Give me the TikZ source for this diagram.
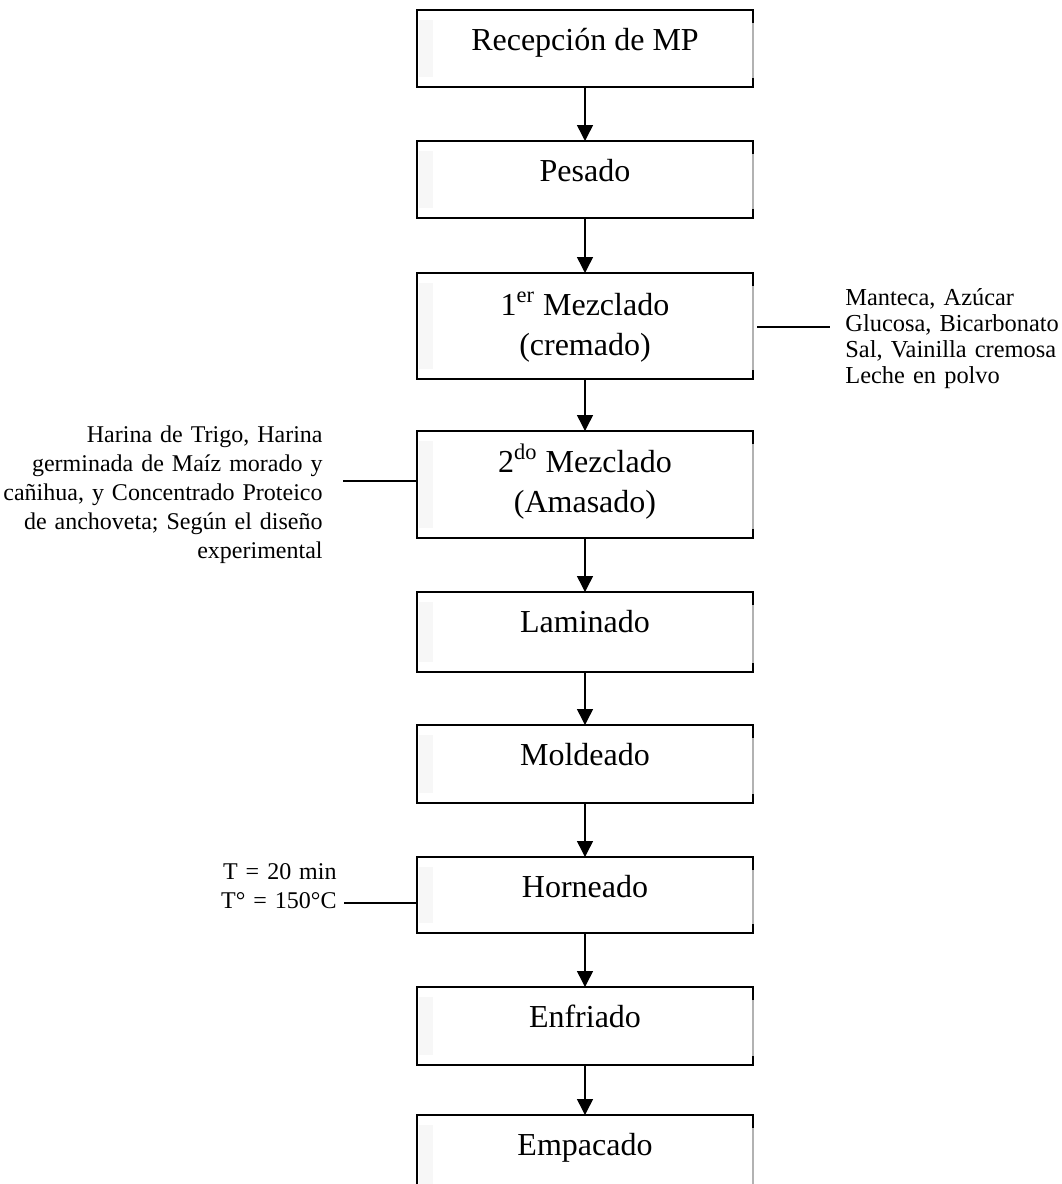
\documentclass[tikz,border=0pt]{standalone}
\usepackage{fontspec}
\setmainfont{Liberation Serif}
\usetikzlibrary{arrows.meta}

% frame of a process box: black top, left and bottom, grey right side
% with short black ends, and a faint shade inside the left side
\newcommand\procframe[1]{%
  \fill[black!3] ([xshift=1pt,yshift=-5pt]#1.north west) rectangle ([xshift=8pt,yshift=5pt]#1.south west);
  \draw[black!30, line width=0.75pt] (#1.north east) -- (#1.south east);
  \draw[edge] ([yshift=-6.5pt]#1.north east) -- (#1.north east) -- (#1.north west)
     -- (#1.south west) -- (#1.south east) -- ([yshift=4.5pt]#1.south east);
}

\begin{document}
\begin{tikzpicture}[x=0.5pt,y=-0.5pt,
  flowbox/.style={minimum width=168pt, inner sep=0pt, outer sep=0pt},
  boxtext/.style={anchor=base, inner sep=0pt, font=\fontsize{16}{20}\selectfont},
  notetext/.style={inner sep=0pt},
  edge/.style={line width=1pt, black, line join=miter},
  flow/.style={line width=0.75pt, -{Triangle[length=8pt,width=8pt]}},
  side/.style={line width=0.75pt},
]
\clip (0,0) rectangle (1061,1184);
\fill[white] (0,0) rectangle (1061,1184);

% process boxes
\node[flowbox, minimum height=38.5pt] (b1) at (585,48.5)  {};
\node[flowbox, minimum height=38.5pt] (b2) at (585,179.5) {};
\node[flowbox, minimum height=53pt]   (b3) at (585,326)   {};
\node[flowbox, minimum height=53.5pt] (b4) at (585,484.5) {};
\node[flowbox, minimum height=40pt]   (b5) at (585,632)   {};
\node[flowbox, minimum height=39pt]   (b6) at (585,764)   {};
\node[flowbox, minimum height=38pt]   (b7) at (585,895)   {};
\node[flowbox, minimum height=39pt]   (b8) at (585,1026)  {};
\node[flowbox, minimum height=42.5pt] (b9) at (585,1157.5){};

\foreach \b in {b1,b2,b3,b4,b5,b6,b7,b8,b9} {\procframe{\b}}

% box texts
\node[boxtext] (t1)  at (585,50)   {Recepción de MP};
\node[boxtext] (t2)  at (585,181)  {Pesado};
\node[boxtext] (t3a) at (585,315)  {1\textsuperscript{er} Mezclado};
\node[boxtext] (t3b) at (585,355)  {(cremado)};
\node[boxtext] (t4a) at (585,472)  {2\textsuperscript{do} Mezclado};
\node[boxtext] (t4b) at (585,512)  {(Amasado)};
\node[boxtext] (t5)  at (585,632)  {Laminado};
\node[boxtext] (t6)  at (585,765)  {Moldeado};
\node[boxtext] (t7)  at (585,897)  {Horneado};
\node[boxtext] (t8)  at (585,1027) {Enfriado};
\node[boxtext] (t9)  at (585,1155) {Empacado};

% flow arrows
\draw[flow] (b1) -- (b2);
\draw[flow] (b2) -- (b3);
\draw[flow] (b3) -- (b4);
\draw[flow] (b4) -- (b5);
\draw[flow] (b5) -- (b6);
\draw[flow] (b6) -- (b7);
\draw[flow] (b7) -- (b8);
\draw[flow] (b8) -- (b9);

% ingredients of the first mixing
\node[notetext, anchor=base west, text width=120pt, align=left,
      font=\fontsize{12.2}{13}\selectfont] (n3) at (845,305)
  {Manteca, Azúcar\\Glucosa, Bicarbonato\\Sal, Vainilla cremosa\\Leche en polvo};
\coordinate (r3) at (830,327);
\draw[side] ([xshift=2pt]b3.east |- r3) -- (r3);

% flours of the second mixing
\node[notetext, anchor=base east, text width=170pt, align=right,
      font=\fontsize{12}{14.6}\selectfont] (n4) at (323,442)
  {Harina de Trigo, Harina\\germinada de Maíz morado y\\cañihua, y Concentrado Proteico\\de anchoveta; Según el diseño\\experimental};
\coordinate (l4) at (343,481);
\draw[side] (l4) -- (l4 -| b4.west);

% baking conditions
\node[notetext, anchor=base east, text width=70pt, align=right,
      font=\fontsize{12}{14.5}\selectfont] (n7) at (337,879)
  {T = 20 min\\T° = 150°C};
\coordinate (l7) at (344,903);
\draw[side] (l7) -- (l7 -| b7.west);
\end{tikzpicture}
\end{document}
